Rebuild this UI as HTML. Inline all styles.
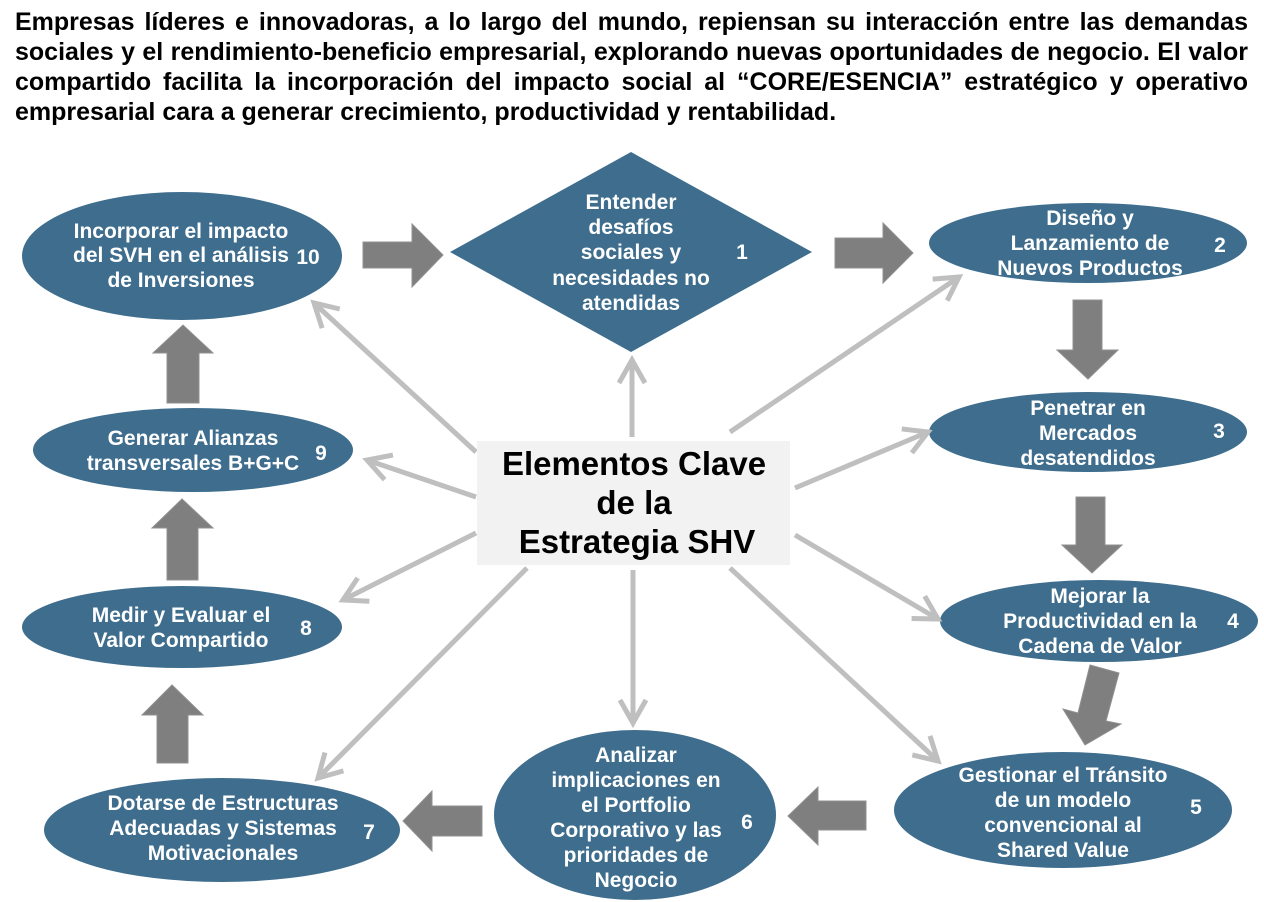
<!DOCTYPE html>
<html>
<head>
<meta charset="utf-8">
<style>
  html, body { margin:0; padding:0; background:#ffffff; }
  body { width:1264px; height:902px; position:relative; overflow:hidden; font-family:"Liberation Sans", Arial, sans-serif; }
  .hdr { position:absolute; left:15px; top:7px; width:1233px; font-weight:bold; font-size:25px; line-height:30px; color:#000; }
  .hdr div { white-space:nowrap; text-align:justify; text-align-last:justify; }
  .hdr div.last { text-align:left; text-align-last:left; }
  svg { position:absolute; left:0; top:0; }
  svg text { font-family:"Liberation Sans", Arial, sans-serif; font-weight:bold; }
</style>
</head>
<body>
<div class="hdr">
  <div>Empresas líderes e innovadoras, a lo largo del mundo, repiensan su interacción entre las demandas</div>
  <div>sociales y el rendimiento-beneficio empresarial, explorando nuevas oportunidades de negocio. El valor</div>
  <div>compartido facilita la incorporación del impacto social al “CORE/ESENCIA” estratégico y operativo</div>
  <div class="last">empresarial cara a generar crecimiento, productividad y rentabilidad.</div>
</div>

<svg width="1264" height="902" viewBox="0 0 1264 902" xmlns="http://www.w3.org/2000/svg">
  <defs>
    <marker id="chev" markerUnits="userSpaceOnUse" viewBox="0 0 30 30" refX="26" refY="15" markerWidth="30" markerHeight="30" orient="auto" overflow="visible">
      <path d="M3,2 L26,15 L3,28" fill="none" stroke="#bfbfbf" stroke-width="5" stroke-linejoin="miter"/>
    </marker>
  </defs>

  <!-- ellipses / diamond -->
  <g fill="#3e6d8d">
    <ellipse cx="182" cy="256" rx="160" ry="64"/>
    <ellipse cx="193" cy="450" rx="160" ry="42"/>
    <ellipse cx="182" cy="627" rx="160" ry="41"/>
    <ellipse cx="222" cy="830" rx="178" ry="52"/>
    <ellipse cx="635" cy="815" rx="141" ry="85"/>
    <ellipse cx="1063" cy="810" rx="169" ry="58"/>
    <ellipse cx="1099" cy="621" rx="159" ry="41"/>
    <ellipse cx="1088" cy="432" rx="159" ry="40"/>
    <ellipse cx="1088" cy="243" rx="159" ry="40"/>
    <polygon points="631,152 812,252 631,352 450,252"/>
  </g>

  <!-- block arrows -->
  <g fill="#7f7f7f" stroke="#909090" stroke-width="1">
    <polygon points="363,242 412,242 412,224 443,255 412,287 412,268 363,268"/>
    <polygon points="835,238 883,238 883,223 913,253 883,283 883,268 835,268"/>
    <polygon points="1073,300 1102,300 1102,350 1118,350 1088,379 1057,350 1073,350"/>
    <polygon points="1076,497 1105,497 1105,545 1122,545 1092,573 1062,545 1076,545"/>
    <polygon points="1090,665 1119,673 1106,721 1121,724 1085,745 1063,709 1078,713"/>
    <polygon points="866,801 818,801 818,787 788,816 818,845 818,830 866,830"/>
    <polygon points="482,806 432,806 432,791 403,821 432,851 432,836 482,836"/>
    <polygon points="157,763 157,715 142,715 172,685 203,715 188,715 188,763"/>
    <polygon points="167,580 167,528 152,528 182,499 213,528 198,528 198,580"/>
    <polygon points="167,403 167,353 153,353 183,325 213,353 199,353 199,403"/>
  </g>

  <!-- connectors -->
  <g stroke="#bfbfbf" stroke-width="5" fill="none" marker-end="url(#chev)">
    <line x1="632" y1="437" x2="632" y2="360"/>
    <line x1="730" y1="432" x2="959" y2="277"/>
    <line x1="795" y1="488" x2="928" y2="432"/>
    <line x1="795" y1="535" x2="938" y2="619"/>
    <line x1="730" y1="568" x2="938" y2="761"/>
    <line x1="633" y1="570" x2="633" y2="723"/>
    <line x1="527" y1="568" x2="318" y2="778"/>
    <line x1="476" y1="533" x2="343" y2="600"/>
    <line x1="476" y1="497" x2="367" y2="460"/>
    <line x1="476" y1="452" x2="314" y2="303"/>
  </g>

  <!-- central box -->
  <rect x="477" y="441" width="313" height="124" fill="#f2f2f2"/>
  <g fill="#000" font-size="33" text-anchor="middle">
    <text x="634" y="475">Elementos Clave</text>
    <text x="634" y="514">de la</text>
    <text x="637" y="553">Estrategia SHV</text>
  </g>

  <!-- node texts -->
  <g fill="#ffffff" font-size="21" text-anchor="middle">
    <!-- 1 -->
    <text x="631" y="209">Entender</text>
    <text x="631" y="234">desafíos</text>
    <text x="631" y="259">sociales y</text>
    <text x="631" y="285">necesidades no</text>
    <text x="631" y="310">atendidas</text>
    <text x="742" y="259">1</text>
    <!-- 2 -->
    <text x="1090" y="225">Diseño y</text>
    <text x="1090" y="250">Lanzamiento de</text>
    <text x="1090" y="275">Nuevos Productos</text>
    <text x="1220" y="252">2</text>
    <!-- 3 -->
    <text x="1088" y="415">Penetrar en</text>
    <text x="1088" y="440">Mercados</text>
    <text x="1088" y="465">desatendidos</text>
    <text x="1219" y="438">3</text>
    <!-- 4 -->
    <text x="1100" y="603">Mejorar la</text>
    <text x="1100" y="628">Productividad en la</text>
    <text x="1100" y="653">Cadena de Valor</text>
    <text x="1233" y="628">4</text>
    <!-- 5 -->
    <text x="1063" y="782">Gestionar el Tránsito</text>
    <text x="1063" y="807">de un modelo</text>
    <text x="1063" y="832">convencional al</text>
    <text x="1063" y="857">Shared Value</text>
    <text x="1196" y="814">5</text>
    <!-- 6 -->
    <text x="636" y="762">Analizar</text>
    <text x="636" y="787">implicaciones en</text>
    <text x="636" y="812">el Portfolio</text>
    <text x="636" y="837">Corporativo y las</text>
    <text x="636" y="862">prioridades de</text>
    <text x="636" y="887">Negocio</text>
    <text x="747" y="829">6</text>
    <!-- 7 -->
    <text x="223" y="810">Dotarse de Estructuras</text>
    <text x="223" y="835">Adecuadas y Sistemas</text>
    <text x="223" y="860">Motivacionales</text>
    <text x="369" y="839">7</text>
    <!-- 8 -->
    <text x="181" y="622">Medir y Evaluar el</text>
    <text x="181" y="647">Valor Compartido</text>
    <text x="306" y="635">8</text>
    <!-- 9 -->
    <text x="193" y="445">Generar Alianzas</text>
    <text x="193" y="470">transversales B+G+C</text>
    <text x="321" y="460">9</text>
    <!-- 10 -->
    <text x="181" y="238">Incorporar el impacto</text>
    <text x="181" y="262">del SVH en el análisis</text>
    <text x="181" y="287">de Inversiones</text>
    <text x="308" y="264">10</text>
  </g>
</svg>
</body>
</html>
